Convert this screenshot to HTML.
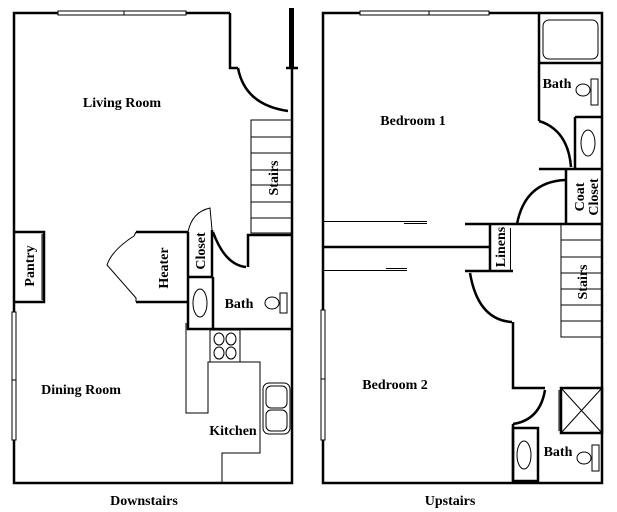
<!DOCTYPE html>
<html><head><meta charset="utf-8"><style>
html,body{margin:0;padding:0;background:#fff;}
svg{display:block;}
text{font-family:"Liberation Serif",serif;font-weight:bold;font-size:14px;fill:#000;}
</style></head><body>
<svg width="617" height="512" viewBox="0 0 617 512" xmlns="http://www.w3.org/2000/svg">
<g fill="none" stroke="#000" stroke-width="2.5">
<polyline points="230,13 14,13 14,483 292,483 292,68"/>
<polyline points="230,13 230,68 238,68"/>
<line x1="286" y1="68" x2="298" y2="68"/>
<polyline points="14,232 44,232 44,302 14,302"/>
<polyline points="136,232 188,232"/>
<polyline points="136,302 188,302"/>
<polyline points="188,232 188,329 292,329"/>
<line x1="212" y1="230" x2="212" y2="277"/>
<line x1="188" y1="277" x2="212" y2="277"/>
<line x1="213" y1="277" x2="213" y2="329"/>
<polyline points="292,235 248,235 248,267"/>
<rect x="323" y="13" width="279" height="470"/>
<polyline points="539,13 539,121"/>
<line x1="539" y1="63" x2="602" y2="63"/>
<polyline points="539,169 602,169"/>
<line x1="575" y1="117" x2="575" y2="169"/>
<line x1="575" y1="117" x2="602" y2="117"/>
<line x1="566" y1="169" x2="566" y2="224"/>
<line x1="465" y1="224" x2="602" y2="224"/>
<line x1="323" y1="247" x2="490" y2="247"/>
<line x1="465" y1="271" x2="513" y2="271"/>
<line x1="490" y1="224" x2="490" y2="271"/>
<polyline points="513,322 513,388 545,388"/>
<line x1="513" y1="424" x2="513" y2="483"/>
<rect x="513" y="428" width="25" height="53"/>
<rect x="561" y="388" width="41" height="45"/>
<path d="M238,68 Q245,105 288,111"/>
<path d="M213,232 Q225,265 246,267"/>
<path d="M539,121 Q568,130 571,167"/>
<path d="M565,180 Q525,182 517,224"/>
<path d="M470,273 Q478,320 512,322"/>
<path d="M545,390 Q540,420 513,424"/>
</g>
<rect x="289" y="8" width="5" height="60" fill="#000"/>
<g fill="none" stroke="#000" stroke-width="1">
<rect x="58" y="11" width="128" height="4" fill="#fff"/><line x1="124" y1="11" x2="124" y2="15"/>
<rect x="12" y="312" width="4" height="128" fill="#fff"/><line x1="12" y1="380" x2="16" y2="380"/>
<rect x="360" y="11" width="129" height="4" fill="#fff"/><line x1="429" y1="11" x2="429" y2="15"/>
<rect x="321" y="310" width="4" height="130" fill="#fff"/><line x1="321" y1="379" x2="325" y2="379"/>
<line x1="42" y1="234" x2="42" y2="300"/>
<path d="M136,232 L134,236 Q112,250 107,265 L136,298 L136,302"/>
<path d="M188,232 Q192,212 210,208 L212,230"/>
<rect x="251" y="120" width="41" height="113"/>
<line x1="251" y1="137" x2="292" y2="137"/><line x1="251" y1="153" x2="292" y2="153"/>
<line x1="251" y1="170" x2="292" y2="170"/><line x1="251" y1="185" x2="292" y2="185"/>
<line x1="251" y1="202" x2="292" y2="202"/><line x1="251" y1="218" x2="292" y2="218"/>
<ellipse cx="200" cy="303" rx="7" ry="14"/>
<ellipse cx="272" cy="303" rx="7" ry="6"/>
<rect x="280" y="293" width="7" height="20"/>
<polyline points="186,323 186,413 208,413 208,362 260,362 260,453 222,453 222,483"/>
<rect x="210" y="330" width="30" height="32"/>
<ellipse cx="219" cy="339" rx="5" ry="6"/><ellipse cx="231" cy="339" rx="5" ry="6"/>
<ellipse cx="219" cy="353" rx="5" ry="6"/><ellipse cx="231" cy="353" rx="5" ry="6"/>
<rect x="263" y="383" width="27" height="51" rx="6"/>
<rect x="266" y="386" width="21" height="22" rx="5"/>
<rect x="266" y="410" width="21" height="21" rx="5"/>
<rect x="543" y="20" width="55" height="39" rx="6"/>
<ellipse cx="583" cy="90" rx="7" ry="6"/>
<rect x="591" y="79" width="7" height="26"/>
<ellipse cx="588" cy="143" rx="7" ry="13"/>
<line x1="323" y1="221.5" x2="427" y2="221.5"/><line x1="404" y1="223.5" x2="427" y2="223.5"/>
<line x1="323" y1="270.5" x2="407" y2="270.5"/><line x1="386" y1="268.5" x2="407" y2="268.5"/>
<line x1="510.5" y1="228" x2="510.5" y2="270"/>
<rect x="561" y="224" width="41" height="113"/>
<line x1="561" y1="240" x2="602" y2="240"/><line x1="561" y1="257" x2="602" y2="257"/>
<line x1="561" y1="273" x2="602" y2="273"/><line x1="561" y1="289" x2="602" y2="289"/>
<line x1="561" y1="305" x2="602" y2="305"/><line x1="561" y1="321" x2="602" y2="321"/>
<line x1="561" y1="388" x2="602" y2="433"/><line x1="602" y1="388" x2="561" y2="433"/>
<line x1="559" y1="390" x2="559" y2="431"/>
<ellipse cx="524" cy="455" rx="7" ry="14"/>
<ellipse cx="584" cy="458" rx="7" ry="6"/>
<rect x="592" y="445" width="7" height="26"/>
</g>
<text x="122" y="107" text-anchor="middle">Living Room</text>
<text x="81" y="394" text-anchor="middle">Dining Room</text>
<text x="233" y="435" text-anchor="middle">Kitchen</text>
<text x="239" y="308" text-anchor="middle">Bath</text>
<text x="144" y="505" text-anchor="middle">Downstairs</text>
<text transform="translate(278,178) rotate(-90)" text-anchor="middle">Stairs</text>
<text transform="translate(168,268) rotate(-90)" text-anchor="middle">Heater</text>
<text transform="translate(205,251) rotate(-90)" text-anchor="middle">Closet</text>
<text transform="translate(34,266) rotate(-90)" text-anchor="middle">Pantry</text>
<text x="413" y="125" text-anchor="middle">Bedroom 1</text>
<text x="395" y="389" text-anchor="middle">Bedroom 2</text>
<text x="557" y="88" text-anchor="middle">Bath</text>
<text x="558" y="456" text-anchor="middle">Bath</text>
<text x="450" y="505" text-anchor="middle">Upstairs</text>
<text transform="translate(587,282) rotate(-90)" text-anchor="middle">Stairs</text>
<text transform="translate(505,247) rotate(-90)" text-anchor="middle">Linens</text>
<text transform="translate(584,197) rotate(-90)" text-anchor="middle">Coat</text>
<text transform="translate(598,197) rotate(-90)" text-anchor="middle">Closet</text>
</svg>
</body></html>
